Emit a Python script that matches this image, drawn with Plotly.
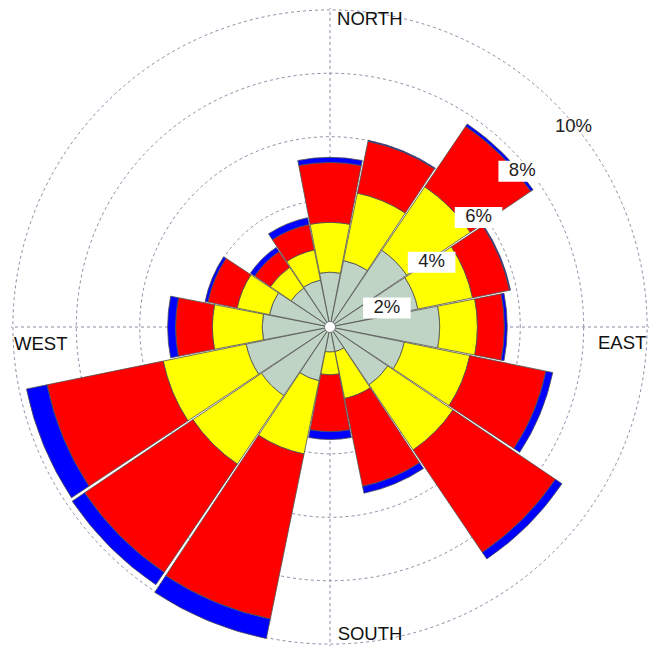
import plotly.graph_objects as go

# ---- data (percent frequency per direction, per class) ----
directions = ["N", "NNE", "NE", "ENE", "E", "ESE", "SE", "SSE",
              "S", "SSW", "SW", "WSW", "W", "WNW", "NW", "NNW"]
angles = [0, 22.5, 45, 67.5, 90, 112.5, 135, 157.5,
          180, 202.5, 225, 247.5, 270, 292.5, 315, 337.5]

class1 = [1.73, 2.14, 2.92, 2.83, 3.46, 2.39, 2.20, 0.79,
          0.79, 1.73, 2.61, 2.70, 2.14, 1.95, 1.48, 1.51]
class2 = [1.57, 2.17, 2.42, 1.76, 1.19, 2.11, 2.48, 1.51,
          0.72, 2.36, 2.61, 2.67, 1.57, 1.04, 0.79, 0.97]
class3 = [1.89, 1.67, 2.30, 1.19, 0.85, 2.45, 3.90, 2.83,
          1.79, 5.31, 4.12, 3.74, 1.16, 0.94, 0.60, 0.82]
class4 = [0.16, 0.03, 0.09, 0.03, 0.09, 0.22, 0.25, 0.22,
          0.25, 0.63, 0.47, 0.66, 0.25, 0.09, 0.16, 0.22]

ring_values = [2, 4, 6, 8, 10]
ring_labels = ["2%", "4%", "6%", "8%", "10%"]
ring_label_r = [1.89, 3.8, 5.82, 7.8, 9.92]
ring_label_theta = [71.6, 57.5, 53.6, 51.0, 50.7]

compass_labels = ["NORTH", "EAST", "SOUTH", "WEST"]
compass_r = [9.75, 9.23, 9.8, 9.14]
compass_theta = [7.4, 93.5, 172.6, 266.4]

colors = ["#bfd4c4", "#ffff00", "#ff0000", "#0000ff"]

fig = go.Figure()
for vals, col in zip([class1, class2, class3, class4], colors):
    fig.add_trace(go.Barpolar(
        r=vals, theta=angles, width=21.9,
        marker=dict(color=col, line=dict(color="rgb(80,80,80)", width=0.8)),
        showlegend=False, hoverinfo="skip"))

# centre dot
fig.add_trace(go.Scatterpolar(
    r=[0], theta=[0], mode="markers",
    marker=dict(size=11, color="white", line=dict(color="rgb(120,120,120)", width=1)),
    showlegend=False, hoverinfo="skip"))

# ring labels with white boxes (except outermost)
fig.add_trace(go.Scatterpolar(
    r=ring_label_r[:4], theta=ring_label_theta[:4], mode="markers",
    marker=dict(symbol="line-ew", size=34, color="white",
                line=dict(color="white", width=21)),
    showlegend=False, hoverinfo="skip"))
fig.add_trace(go.Scatterpolar(
    r=ring_label_r, theta=ring_label_theta, mode="text",
    text=ring_labels, textposition="middle center", cliponaxis=False,
    textfont=dict(family="Liberation Sans, Arial", size=18.5, color="#222"),
    showlegend=False, hoverinfo="skip"))

# compass labels
fig.add_trace(go.Scatterpolar(
    r=compass_r, theta=compass_theta, mode="text",
    text=compass_labels, textposition="middle center", cliponaxis=False,
    textfont=dict(family="Liberation Sans, Arial", size=18.5, color="#111"),
    showlegend=False, hoverinfo="skip"))

fig.update_layout(
    width=660, height=650,
    margin=dict(l=0, r=0, t=0, b=0),
    paper_bgcolor="white",
    polar=dict(
        domain=dict(x=[0, 644 / 660], y=[12 / 650, 1]),
        bgcolor="white",
        barmode="stack",
        radialaxis=dict(range=[0, 10.06], tickvals=ring_values,
                        showticklabels=False, ticks="", showline=False,
                        gridcolor="rgb(140,140,165)", griddash="dot", gridwidth=1),
        angularaxis=dict(direction="clockwise", rotation=90,
                         tickvals=[0, 90, 180, 270], showticklabels=False,
                         ticks="", showline=False,
                         gridcolor="rgb(140,140,165)", griddash="dot", gridwidth=1),
    ),
)

fig.write_html("out.html")
